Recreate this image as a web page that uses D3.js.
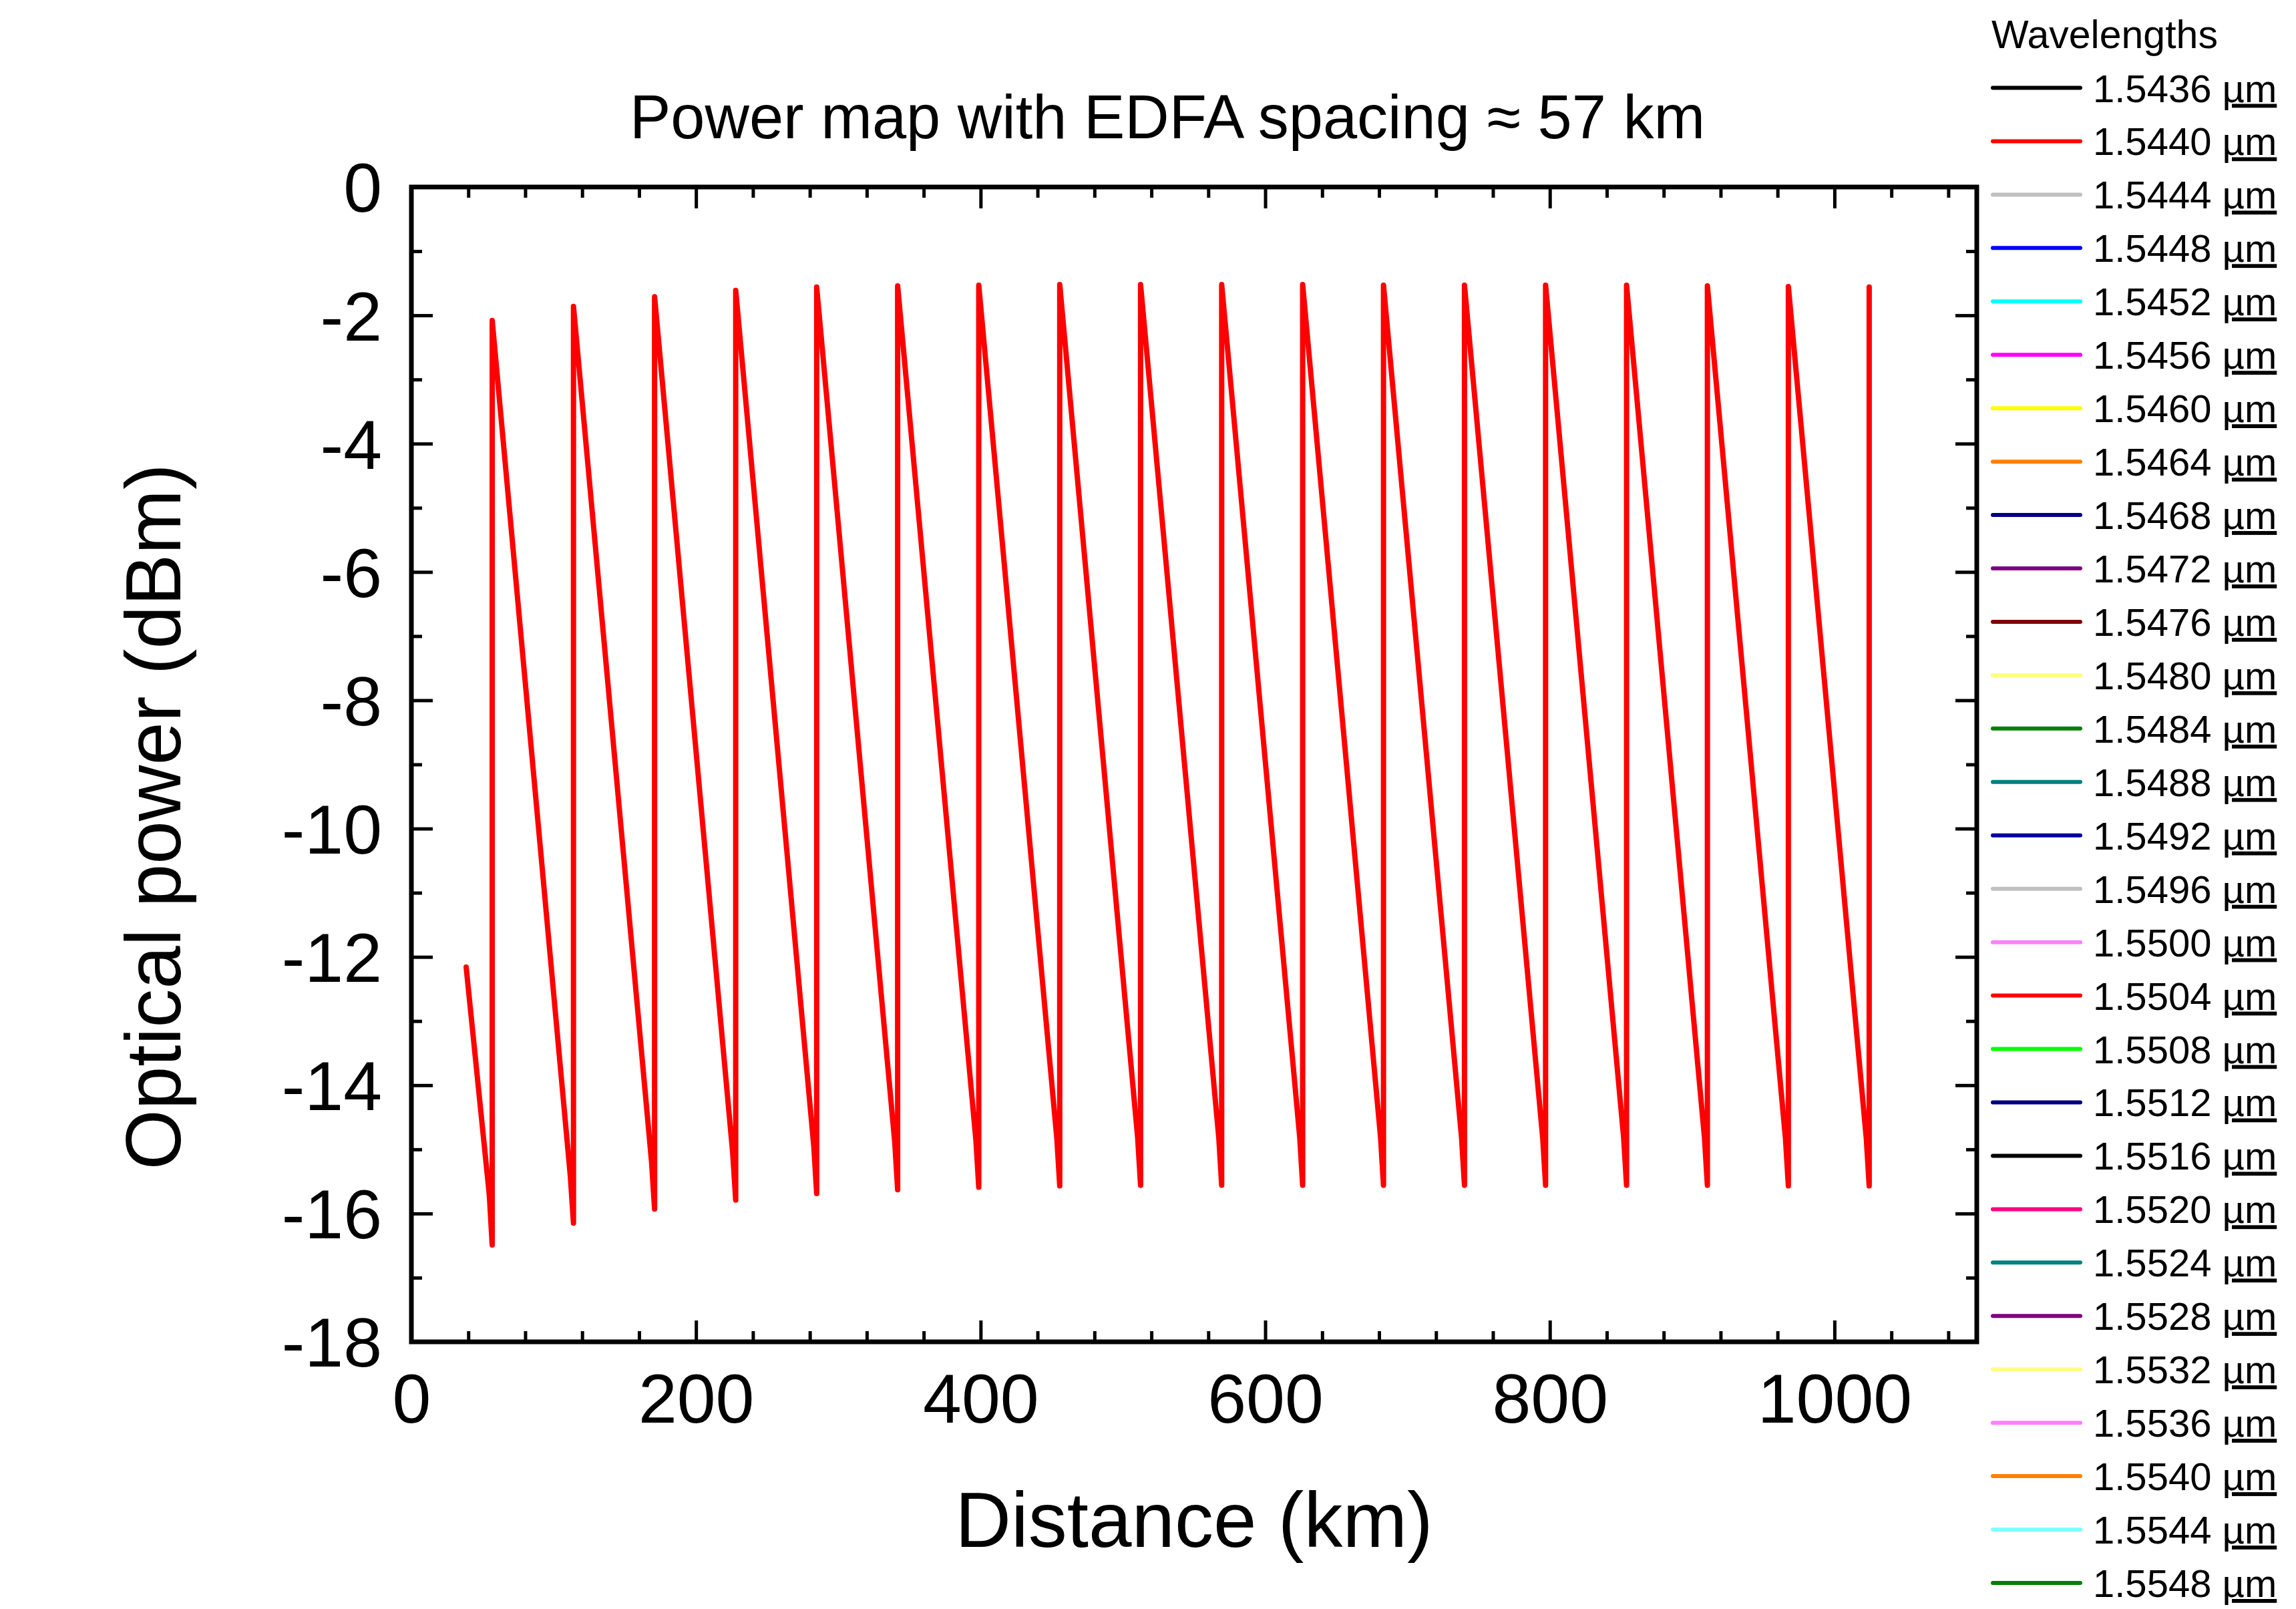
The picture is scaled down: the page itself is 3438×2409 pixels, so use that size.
<!DOCTYPE html>
<html>
<head>
<meta charset="utf-8">
<script src="https://cdn.jsdelivr.net/npm/d3@7"></script>
<style>
  html, body { margin: 0; padding: 0; background: #fff; }
  svg { display: block; }
  text { font-family: "Liberation Sans", Arial, sans-serif; fill: #000; }
</style>
</head>
<body>
<script>
// ---------------- DATA ----------------
const chartTitle = "Power map with EDFA spacing \u2248 57 km";
const xLabel = "Distance (km)";
const yLabel = "Optical power (dBm)";
const legendTitle = "Wavelengths";

// launch point of the first (partial) span
const startKm = 38.5;
const startDbm = -12.16;

// EDFA positions (km): power drops to the bottom, then jumps up to the peak
const ampKm = [56.8, 113.9, 170.9, 227.9, 284.8, 341.7, 398.7, 455.6, 512.4,
               569.4, 626.3, 683.1, 740.0, 797.0, 853.9, 910.7, 967.6, 1024.4];
// power just before each EDFA (dBm)
const bottomDbm = [-16.49, -16.15, -15.93, -15.79, -15.69, -15.63, -15.59, -15.57, -15.56,
                   -15.56, -15.56, -15.56, -15.56, -15.56, -15.56, -15.56, -15.57, -15.57];
// power just after each EDFA (dBm)
const peakDbm = [-2.08, -1.86, -1.71, -1.61, -1.56, -1.54, -1.53, -1.52, -1.52,
                 -1.52, -1.52, -1.53, -1.53, -1.53, -1.53, -1.54, -1.55, -1.56];
// last sample before each EDFA (slight slope change near the span end)
const kinkKm = [54.8, 111.7, 168.8, 225.8, 282.8, 339.7, 396.7, 453.6, 510.4,
                567.4, 624.3, 681.1, 738.0, 795.0, 851.9, 908.7, 965.6, 1022.4];
const kinkDbm = [-15.72, -15.42, -15.2, -15.06, -14.96, -14.9, -14.86, -14.84, -14.83,
                 -14.83, -14.83, -14.83, -14.83, -14.83, -14.83, -14.83, -14.84, -14.84];

const xTicks = [0, 200, 400, 600, 800, 1000];
const yTicks = [0, -2, -4, -6, -8, -10, -12, -14, -16, -18];

const wavelengths = ["1.5436", "1.5440", "1.5444", "1.5448", "1.5452", "1.5456", "1.5460",
  "1.5464", "1.5468", "1.5472", "1.5476", "1.5480", "1.5484", "1.5488", "1.5492", "1.5496",
  "1.5500", "1.5504", "1.5508", "1.5512", "1.5516", "1.5520", "1.5524", "1.5528", "1.5532",
  "1.5536", "1.5540", "1.5544", "1.5548"];
const wavelengthColors = ["#000000", "#FF0000", "#C0C0C0", "#0000FF", "#00FFFF", "#FF00FF",
  "#FFFF00", "#FF8000", "#000080", "#800080", "#800000", "#FFFF80", "#008000", "#008080",
  "#0000A0", "#C0C0C0", "#FF80FF", "#FF0000", "#00FF00", "#000080", "#000000", "#FF0080",
  "#008080", "#800080", "#FFFF80", "#FF80FF", "#FF8000", "#80FFFF", "#008000"];
const seriesColor = "#FF0000";

// ---------------- LAYOUT ----------------
const W = 3438, H = 2409;
const L = 616, R = 2960, T = 280, B = 2009;

const svg = d3.select("body").append("svg").attr("width", W).attr("height", H);

const x = d3.scaleLinear().domain([0, 1100]).range([L, R]);
const y = d3.scaleLinear().domain([-18, 0]).range([B, T]);

// build series points
const pts = [[startKm, startDbm]];
ampKm.forEach((a, i) => {
  pts.push([kinkKm[i], kinkDbm[i]]);
  pts.push([a, bottomDbm[i]]);
  pts.push([a, peakDbm[i]]);
});

svg.append("clipPath").attr("id", "plotclip")
  .append("rect").attr("x", L).attr("y", T).attr("width", R - L).attr("height", B - T);

svg.append("path")
  .datum(pts)
  .attr("clip-path", "url(#plotclip)")
  .attr("fill", "none")
  .attr("stroke", seriesColor)
  .attr("stroke-width", 8)
  .attr("stroke-linejoin", "round")
  .attr("stroke-linecap", "round")
  .attr("d", d3.line().x(d => x(d[0])).y(d => y(d[1])));

// ---------------- AXES ----------------
const majorLen = 32, minorLen = 16, tickW = 5;
const xMinor = d3.range(0, 1101, 40).filter(v => v % 200 !== 0);
const yMinor = d3.range(-17, 0, 2);
const fmt = d => String(d);

function styleAxis(g) {
  g.select(".domain").remove();
  g.selectAll(".tick line").attr("stroke", "#000").attr("stroke-width", tickW);
}

// bottom
svg.append("g").attr("transform", `translate(0,${B})`)
  .call(d3.axisBottom(x).tickValues(xTicks).tickSizeInner(-majorLen).tickSizeOuter(0).tickPadding(0).tickFormat(fmt))
  .call(styleAxis)
  .call(g => g.selectAll(".tick text")
    .attr("y", 121).attr("dy", null)
    .style("font-size", "104px").style("font-family", "'Liberation Sans', Arial, sans-serif").attr("fill", "#000"));
svg.append("g").attr("transform", `translate(0,${B})`)
  .call(d3.axisBottom(x).tickValues(xMinor).tickSizeInner(-minorLen).tickSizeOuter(0).tickFormat(""))
  .call(styleAxis);
// top
svg.append("g").attr("transform", `translate(0,${T})`)
  .call(d3.axisTop(x).tickValues(xTicks).tickSizeInner(-majorLen).tickSizeOuter(0).tickFormat(""))
  .call(styleAxis);
svg.append("g").attr("transform", `translate(0,${T})`)
  .call(d3.axisTop(x).tickValues(xMinor).tickSizeInner(-minorLen).tickSizeOuter(0).tickFormat(""))
  .call(styleAxis);
// left
svg.append("g").attr("transform", `translate(${L},0)`)
  .call(d3.axisLeft(y).tickValues(yTicks).tickSizeInner(-majorLen).tickSizeOuter(0).tickPadding(0).tickFormat(fmt))
  .call(styleAxis)
  .call(g => g.selectAll(".tick text")
    .attr("x", -44).attr("dy", "0.355em")
    .style("font-size", "104px").style("font-family", "'Liberation Sans', Arial, sans-serif").attr("fill", "#000"));
svg.append("g").attr("transform", `translate(${L},0)`)
  .call(d3.axisLeft(y).tickValues(yMinor).tickSizeInner(-minorLen).tickSizeOuter(0).tickFormat(""))
  .call(styleAxis);
// right
svg.append("g").attr("transform", `translate(${R},0)`)
  .call(d3.axisRight(y).tickValues(yTicks).tickSizeInner(-majorLen).tickSizeOuter(0).tickFormat(""))
  .call(styleAxis);
svg.append("g").attr("transform", `translate(${R},0)`)
  .call(d3.axisRight(y).tickValues(yMinor).tickSizeInner(-minorLen).tickSizeOuter(0).tickFormat(""))
  .call(styleAxis);

// frame
svg.append("rect").attr("x", L).attr("y", T).attr("width", R - L).attr("height", B - T)
  .attr("fill", "none").attr("stroke", "#000").attr("stroke-width", 7);

// ---------------- TEXT ----------------
svg.append("text").attr("x", 1748).attr("y", 207).attr("text-anchor", "middle")
  .style("font-size", "92px").text(chartTitle);

svg.append("text").attr("x", (L + R) / 2).attr("y", 2316).attr("text-anchor", "middle")
  .style("font-size", "116px").text(xLabel);

svg.append("text").attr("transform", "translate(270,1223) rotate(-90)").attr("text-anchor", "middle")
  .style("font-size", "116px").text(yLabel);

// ---------------- LEGEND ----------------
const lg = svg.append("g");
lg.append("text").attr("x", 2982).attr("y", 72).style("font-size", "59px").text(legendTitle);
const rowY = d3.scaleLinear().domain([0, wavelengths.length - 1]).range([131.5, 2370]);
wavelengths.forEach((w, i) => {
  const yy = rowY(i);
  lg.append("line").attr("x1", 2984).attr("x2", 3115).attr("y1", yy).attr("y2", yy)
    .attr("stroke", wavelengthColors[i]).attr("stroke-width", 6).attr("stroke-linecap", "round");
  const t = lg.append("text").attr("x", 3134).attr("y", yy + 21).style("font-size", "58px");
  t.append("tspan").text(w + " ");
  t.append("tspan").style("text-decoration", "underline").text("\u00B5m");
});
</script>
</body>
</html>
